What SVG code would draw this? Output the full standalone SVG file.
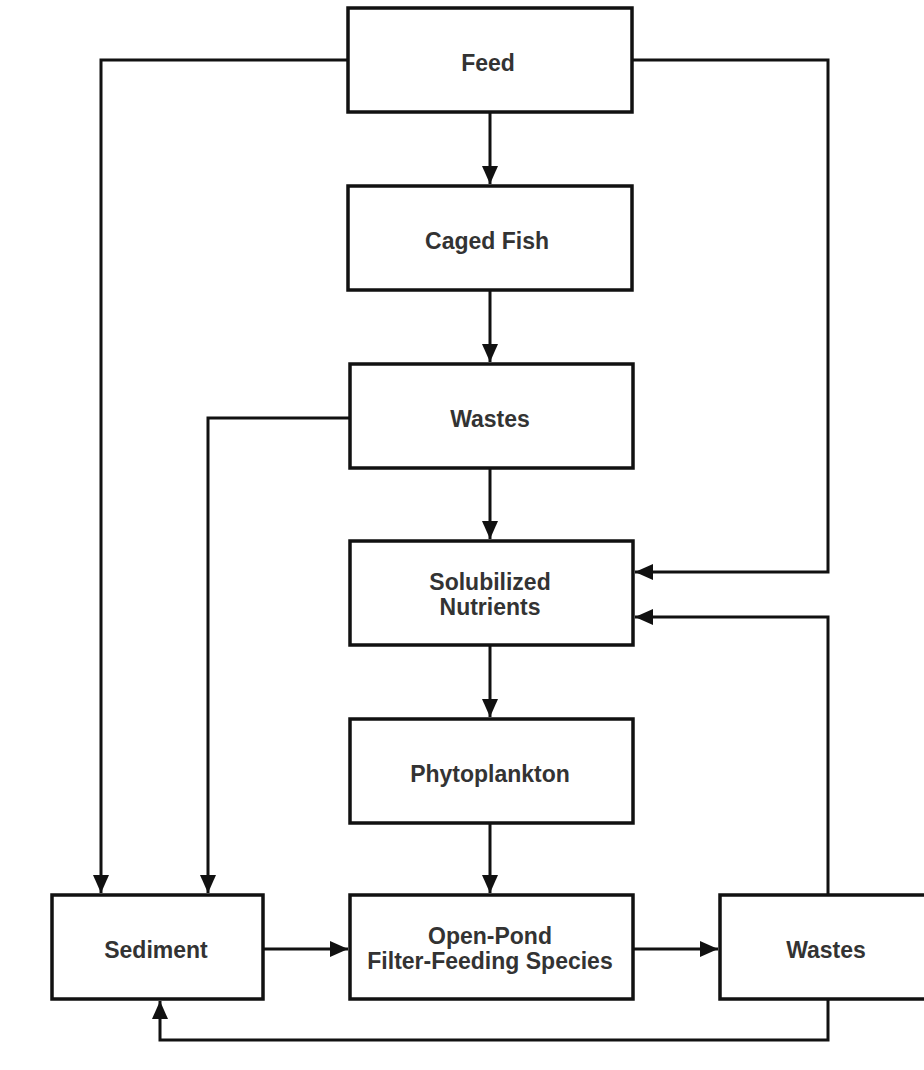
<svg xmlns="http://www.w3.org/2000/svg" width="924" height="1070" viewBox="0 0 924 1070">
<style>
.box{fill:#fff;stroke:#111;stroke-width:3.5}
.lbl{font-family:"Liberation Sans",Arial,sans-serif;font-weight:bold;font-size:23px;fill:#333;text-anchor:middle}
.ln{fill:none;stroke:#111;stroke-width:3;marker-end:url(#ah)}
</style>
<defs>
<marker id="ah" markerUnits="userSpaceOnUse" markerWidth="18" markerHeight="16" refX="18" refY="8" orient="auto">
<path d="M0,0 L18,8 L0,16 z" fill="#111"/>
</marker>
</defs>
<rect width="924" height="1070" fill="#fff"/>
<g id="connectors">
<polyline class="ln" points="348,60 101,60 101,893"/>
<polyline class="ln" points="632,60 828,60 828,572 635,572"/>
<line class="ln" x1="490" y1="112" x2="490" y2="184"/>
<line class="ln" x1="490" y1="290" x2="490" y2="362"/>
<polyline class="ln" points="350,418 208,418 208,893"/>
<line class="ln" x1="490" y1="468" x2="490" y2="539"/>
<line class="ln" x1="490" y1="645" x2="490" y2="717"/>
<line class="ln" x1="490" y1="823" x2="490" y2="893"/>
<line class="ln" x1="263" y1="949" x2="348" y2="949"/>
<line class="ln" x1="633" y1="949" x2="718" y2="949"/>
<polyline class="ln" points="828,895 828,617 635,617"/>
<polyline class="ln" points="828,999 828,1040 160,1040 160,1001"/>
</g>
<g id="feed"><rect class="box" x="348" y="8" width="284" height="104"/><text class="lbl" x="488" y="71">Feed</text></g>
<g id="caged-fish"><rect class="box" x="348" y="186" width="284" height="104"/><text class="lbl" x="487" y="249">Caged Fish</text></g>
<g id="wastes-top"><rect class="box" x="350" y="364" width="283" height="104"/><text class="lbl" x="490" y="427">Wastes</text></g>
<g id="solubilized"><rect class="box" x="350" y="541" width="283" height="104"/><text class="lbl" x="490" y="590">Solubilized</text><text class="lbl" x="490" y="615">Nutrients</text></g>
<g id="phytoplankton"><rect class="box" x="350" y="719" width="283" height="104"/><text class="lbl" x="490" y="782">Phytoplankton</text></g>
<g id="sediment"><rect class="box" x="52" y="895" width="211" height="104"/><text class="lbl" x="156" y="958">Sediment</text></g>
<g id="open-pond"><rect class="box" x="350" y="895" width="283" height="104"/><text class="lbl" x="490" y="944">Open-Pond</text><text class="lbl" x="490" y="969">Filter-Feeding Species</text></g>
<g id="wastes-right"><rect class="box" x="720" y="895" width="220" height="104"/><text class="lbl" x="826" y="958">Wastes</text></g>
</svg>
